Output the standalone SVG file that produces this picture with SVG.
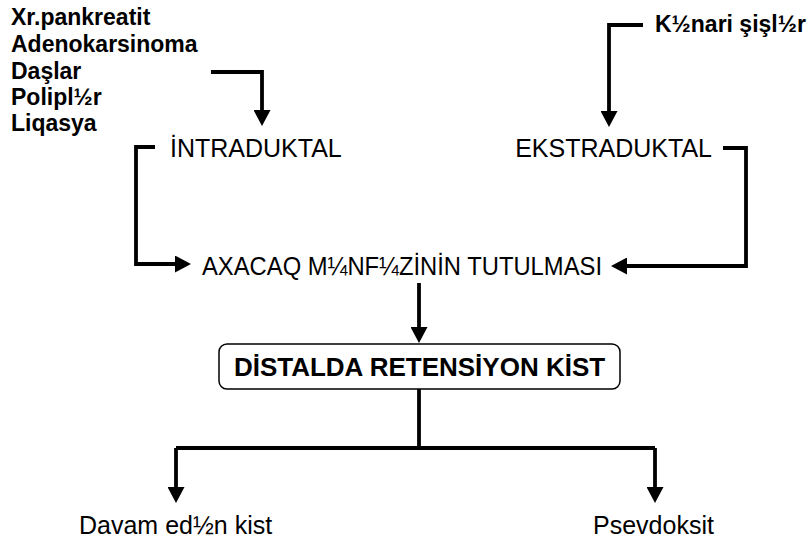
<svg xmlns="http://www.w3.org/2000/svg" width="811" height="541" viewBox="0 0 811 541">
<style>
text{font-family:"Liberation Sans",Arial,sans-serif;fill:#000}
.b{font-weight:bold;font-size:23px}
.r{font-size:25px}
.bx{font-weight:bold;font-size:26px}
.c{fill:none;stroke:#000;stroke-width:3.8;stroke-linejoin:miter}
</style>
<defs>
<marker id="ah" viewBox="0 0 16 17" refX="8" refY="8.5" markerWidth="16" markerHeight="17" markerUnits="userSpaceOnUse" orient="auto">
<path d="M0,0 L16,8.5 L0,17 Z" fill="#000"/>
</marker>
</defs>
<rect width="811" height="541" fill="#fff"/>
<g id="causes">
<text class="b" x="11" y="25">Xr.pankreatit</text>
<text class="b" x="11" y="52">Adenokarsinoma</text>
<text class="b" x="11" y="79">Daşlar</text>
<text class="b" x="11" y="105">Polipl½r</text>
<text class="b" x="11" y="131">Liqasya</text>
</g>
<g id="kenar"><text class="b" x="655" y="32">K½nari şişl½r</text></g>
<g id="intra"><text class="r" x="170" y="157">İNTRADUKTAL</text></g>
<g id="ekstra"><text class="r" x="712" y="157" text-anchor="end">EKSTRADUKTAL</text></g>
<g id="axacaq"><text class="r" x="202" y="275" textLength="400" lengthAdjust="spacingAndGlyphs">AXACAQ M¼NF¼ZİNİN TUTULMASI</text></g>
<g id="distal">
<rect x="219" y="344" width="401" height="45" rx="8" fill="#fff" stroke="#000" stroke-width="1.5"/>
<text class="bx" x="419.5" y="376" text-anchor="middle">DİSTALDA RETENSİYON KİST</text>
</g>
<g id="davam"><text class="r" x="79" y="534">Davam ed½n kist</text></g>
<g id="psevdo"><text class="r" x="593" y="534">Psevdoksit</text></g>
<g id="connectors">
<path class="c" d="M211,72 H262 V118" marker-end="url(#ah)"/>
<path class="c" d="M643,25 H609 V119" marker-end="url(#ah)"/>
<path class="c" d="M155,147 H136 V264 H183" marker-end="url(#ah)"/>
<path class="c" d="M723,148 H746 V266 H619" marker-end="url(#ah)"/>
<path class="c" d="M419,283 V335" marker-end="url(#ah)"/>
<path class="c" d="M419,389 V448"/>
<path class="c" d="M176,448 H655"/>
<path class="c" d="M176,448 V495" marker-end="url(#ah)"/>
<path class="c" d="M655,448 V495" marker-end="url(#ah)"/>
</g>
</svg>
